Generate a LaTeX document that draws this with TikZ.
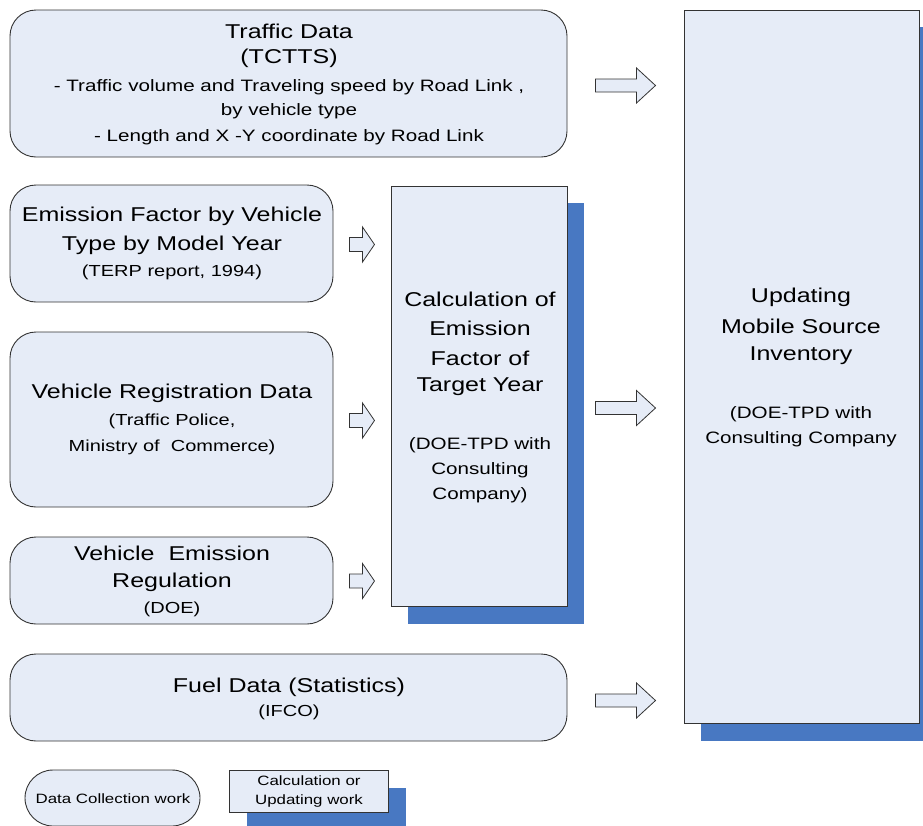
\documentclass[tikz,border=0pt]{standalone}
\usepackage{fontspec}
\setmainfont[FakeStretch=1.25]{Liberation Sans}
\usetikzlibrary{calc}
\definecolor{boxfill}{HTML}{E6ECF7}
\definecolor{shadowblue}{HTML}{4878C2}
\definecolor{edgegray}{HTML}{333333}
\tikzset{
  databox/.style={draw=edgegray, line width=0.9pt, fill=boxfill, rounded corners=26pt, inner sep=0pt},
  workbox/.style={draw=edgegray, line width=0.9pt, fill=boxfill, inner sep=0pt},
  dropshade/.style={fill=shadowblue, draw=none},
  blockarrow/.style={draw=edgegray, line width=0.8pt, fill=boxfill, line join=miter},
  big/.style={font=\fontsize{20}{24}\selectfont},
  mid/.style={font=\fontsize{16.5}{19}\selectfont},
  small/.style={font=\fontsize{16}{18}\selectfont},
  tiny/.style={font=\fontsize{13.5}{16}\selectfont},
  txt/.style={inner sep=0pt, anchor=center},
  widearrow/.pic={\draw[blockarrow] (-30,-6.5) -- (11,-6.5) -- (11,-17.5) -- (30,0) -- (11,17.5) -- (11,6.5) -- (-30,6.5) -- cycle;},
  narrowarrow/.pic={\draw[blockarrow] (-12.5,-7) -- (0.5,-7) -- (0.5,-17.5) -- (12.5,0) -- (0.5,17.5) -- (0.5,7) -- (-12.5,7) -- cycle;}
}
\begin{document}
\begin{tikzpicture}[x=1pt,y=-1pt]
\useasboundingbox (0,0) rectangle (923,825);

% drop shades of the work boxes
\fill[dropshade] (408,203) rectangle (584,624);
\fill[dropshade] (701,27) rectangle (930,741);
\fill[dropshade] (247,788) rectangle (406,830);

% data collection boxes
\node[databox, minimum width=557pt, minimum height=147pt] (traffic) at (288.5,83.5) {};
\node[databox, minimum width=323pt, minimum height=117pt] (factor) at (171.5,243.5) {};
\node[databox, minimum width=323pt, minimum height=175pt] (regist) at (171.5,419.5) {};
\node[databox, minimum width=323pt, minimum height=87pt] (regul) at (171.5,580.5) {};
\node[databox, minimum width=557pt, minimum height=87pt] (fuel) at (288.5,697.5) {};

% work boxes
\node[workbox, minimum width=176pt, minimum height=420pt] (calc) at (479,396) {};
\node[workbox, minimum width=235pt, minimum height=713pt] (update) at (801.5,366.5) {};

% legend
\node[databox, rounded corners=28pt, minimum width=175pt, minimum height=56pt] (legdata) at (112.5,798) {};
\node[workbox, minimum width=159pt, minimum height=42pt] (legwork) at (308.5,791) {};

% texts
\node[txt, big] (t1a) at (289,31) {Traffic Data};
\node[txt, big] (t1b) at (289,58) {(TCTTS)};
\node[txt, mid] (t1c) at (289,87) {- Traffic volume and Traveling speed by Road Link ,};
\node[txt, mid] (t1d) at (289,111) {by vehicle type};
\node[txt, mid] (t1e) at (289,137) {- Length and X -Y coordinate by Road Link};

\node[txt, big] (t2a) at (172,216) {Emission Factor by Vehicle};
\node[txt, big] (t2b) at (172,245) {Type by Model Year};
\node[txt, small] (t2c) at (172,272) {(TERP report, 1994)};

\node[txt, big] (t3a) at (172,393) {Vehicle Registration Data};
\node[txt, small] (t3b) at (172,421) {(Traffic Police,};
\node[txt, small] (t3c) at (172,447) {Ministry of\ \ Commerce)};

\node[txt, big] (t4a) at (172,553) {Vehicle\ \ Emission};
\node[txt, big] (t4b) at (172,582) {Regulation};
\node[txt, small] (t4c) at (172,609) {(DOE)};

\node[txt, big] (t5a) at (289,687) {Fuel Data\hspace{0.35em}(Statistics)};
\node[txt, small] (t5b) at (289,712) {(IFCO)};

\node[txt, big] (t6a) at (480,299) {Calculation of};
\node[txt, big] (t6b) at (480,328) {Emission};
\node[txt, big] (t6c) at (480,358) {Factor of};
\node[txt, big] (t6d) at (480,387) {Target Year};
\node[txt, mid] (t6e) at (480,445) {(DOE-TPD with};
\node[txt, mid] (t6f) at (480,470) {Consulting};
\node[txt, mid] (t6g) at (480,495) {Company)};

\node[txt, big] (t7a) at (801,297) {Updating};
\node[txt, big] (t7b) at (801,326) {Mobile Source};
\node[txt, big] (t7c) at (801,356) {Inventory};
\node[txt, mid] (t7d) at (801,414) {(DOE-TPD with};
\node[txt, mid] (t7e) at (801,439) {Consulting Company};

\node[txt, tiny] (t8a) at (113,799) {Data Collection work};
\node[txt, tiny] (t8b) at (309,781) {Calculation or};
\node[txt, tiny] (t8c) at (309,801) {Updating work};

% block arrows between the boxes
\pic at ($(traffic.east)!0.5!(traffic.east -| update.west) + (0,2)$) {widearrow};
\pic at ($(calc.east)!0.5!(calc.east -| update.west) + (0,12)$) {widearrow};
\pic at ($(fuel.east)!0.5!(fuel.east -| update.west) + (0,3)$) {widearrow};
\pic at ($(factor.east)!0.5!(factor.east -| calc.west) + (0,1)$) {narrowarrow};
\pic at ($(regist.east)!0.5!(regist.east -| calc.west) + (0,1)$) {narrowarrow};
\pic at ($(regul.east)!0.5!(regul.east -| calc.west) + (0,0.5)$) {narrowarrow};
\end{tikzpicture}
\end{document}
